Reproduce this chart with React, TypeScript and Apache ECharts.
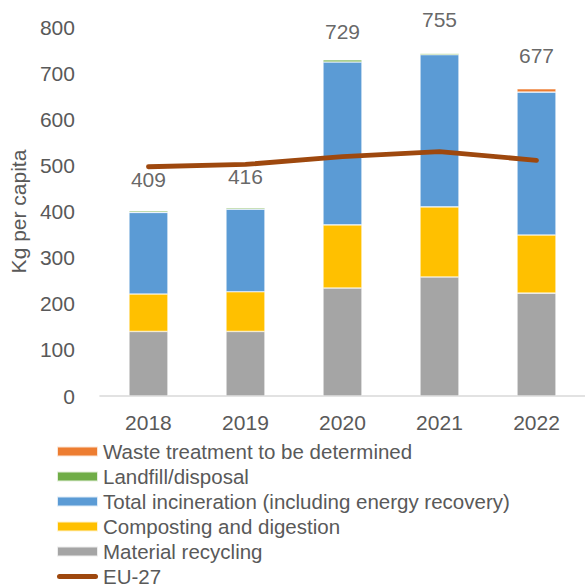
import React, { useEffect, useRef } from "react";
import * as echarts from "echarts";

const years = ["2018", "2019", "2020", "2021", "2022"];
const materialRecycling = [140, 140, 234, 258, 223];
const composting = [81, 86, 137, 152, 126];
const incineration = [177, 179, 353, 330, 310];
const landfill = [3.5, 3, 5, 3, 0];
const toBeDetermined = [0, 0, 0, 0, 7];
const eu27 = [497, 502, 519, 530, 511];
const totalLabels = [409, 416, 729, 755, 677];
const yTicks = { min: 0, max: 800, interval: 100 };

const FONT = "'Liberation Sans', Arial, sans-serif";
const LINE_ICON = "path://M2.5,0 L38.5,0 A2.5,2.5 0 0 1 38.5,5 L2.5,5 A2.5,2.5 0 0 1 2.5,0 Z";

export default function App() {
  const ref = useRef<HTMLDivElement>(null);
  useEffect(() => {
    if (!ref.current) return;
    const chart = echarts.init(ref.current, undefined, { renderer: "svg" });
    const bar = (name: string, data: number[], color: string) => ({
      name,
      type: "bar",
      stack: "total",
      barWidth: 39,
      data,
      itemStyle: { color, borderColor: "rgba(255,255,255,0.8)", borderWidth: 0.6 },
    });
    chart.setOption({
      animation: false,
      textStyle: { fontFamily: FONT },
      grid: { left: 97, top: 27, width: 490, height: 369 },
      xAxis: {
        type: "category",
        data: years,
        axisLine: { lineStyle: { color: "#d9d9d9", width: 1.5 } },
        axisTick: { show: false },
        axisLabel: { fontSize: 21, color: "#595959", margin: 16, fontFamily: FONT },
      },
      yAxis: {
        type: "value",
        min: yTicks.min,
        max: yTicks.max,
        interval: yTicks.interval,
        splitLine: { show: false },
        axisLine: { show: false },
        axisTick: { show: false },
        axisLabel: { fontSize: 21, color: "#595959", margin: 25, fontFamily: FONT },
        name: "Kg per capita",
        nameLocation: "middle",
        nameGap: 61,
        nameTextStyle: { fontSize: 21, color: "#595959", fontFamily: FONT },
      },
      legend: {
        orient: "vertical",
        left: 56,
        top: 441,
        padding: 0,
        itemWidth: 41,
        itemHeight: 10,
        itemGap: 4,
        textStyle: { fontSize: 20.5, color: "#595959", lineHeight: 21, padding: [0, 0, 0, 0], fontFamily: FONT },
        data: [
          { name: "Waste treatment to be determined", icon: "rect" },
          { name: "Landfill/disposal", icon: "rect" },
          { name: "Total incineration (including energy recovery)", icon: "rect" },
          { name: "Composting and digestion", icon: "rect" },
          { name: "Material recycling", icon: "rect" },
          { name: "EU-27", icon: LINE_ICON },
        ],
      },
      series: [
        bar("Material recycling", materialRecycling, "#A5A5A5"),
        bar("Composting and digestion", composting, "#FFC000"),
        bar("Total incineration (including energy recovery)", incineration, "#5B9BD5"),
        bar("Landfill/disposal", landfill, "#70AD47"),
        bar("Waste treatment to be determined", toBeDetermined, "#ED7D31"),
        {
          name: "EU-27",
          type: "line",
          data: eu27,
          symbol: "none",
          lineStyle: { color: "#9E480E", width: 4.8, cap: "round", join: "round" },
          itemStyle: { color: "#9E480E" },
          z: 5,
        },
        {
          name: "totals",
          type: "scatter",
          data: totalLabels,
          symbolSize: 1,
          itemStyle: { color: "rgba(0,0,0,0)" },
          silent: true,
          label: {
            show: true,
            position: "top",
            distance: 17,
            fontSize: 21,
            color: "#404040",
            fontFamily: FONT,
          },
          z: 6,
        },
      ],
    });
    return () => chart.dispose();
  }, []);
  return (
    <div
      ref={ref}
      style={{ position: "fixed", left: 0, top: 0, width: 585, height: 640, background: "#fff" }}
    />
  );
}
